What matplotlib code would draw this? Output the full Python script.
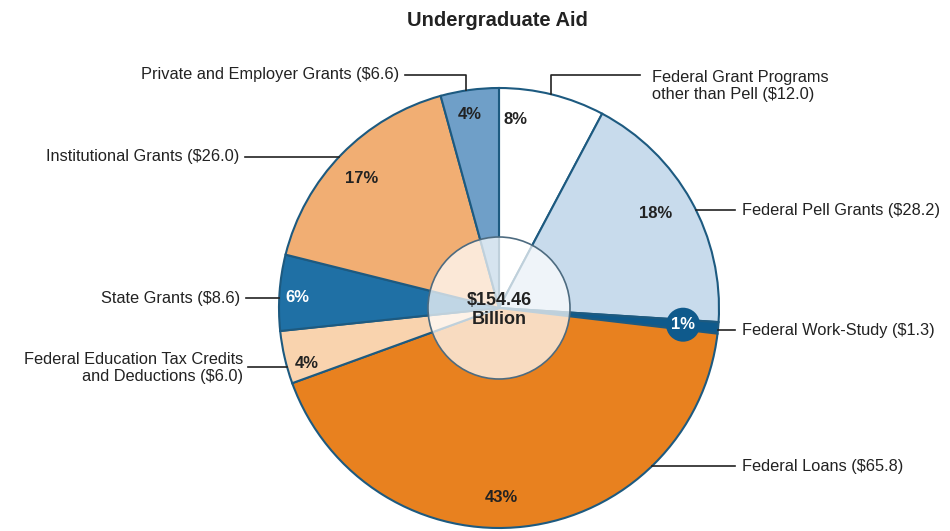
import numpy as np
import matplotlib.pyplot as plt
from matplotlib.patches import Circle

# Undergraduate aid by source, billions of dollars (clockwise from 12 o'clock)
sources = ['Federal Grant Programs\nother than Pell', 'Federal Pell Grants',
           'Federal Work-Study', 'Federal Loans',
           'Federal Education Tax Credits\nand Deductions', 'State Grants',
           'Institutional Grants', 'Private and Employer Grants']
amounts = [12.0, 28.2, 1.3, 65.8, 6.0, 8.6, 26.0, 6.6]
total_label = '$154.46\nBillion'

colors = ['#ffffff', '#c8dbec', '#0f5a8c', '#e8811f',
          '#f9d3ae', '#1f70a5', '#f1ae73', '#6f9fc8']
pct_colors = ['#222222', '#222222', '#ffffff', '#222222',
              '#222222', '#ffffff', '#222222', '#222222']

W, H = 950, 531
fig = plt.figure(figsize=(W / 100, H / 100), dpi=100)
ax = fig.add_axes([0, 0, 1, 1])

FONT = ['Liberation Sans', 'DejaVu Sans']
cx, cy, R = 499, 308, 220
edge = '#1d5a80'

# y axis is flipped below, so counterclock=True ends up clockwise on screen
wedges, _ = ax.pie(amounts, colors=colors, startangle=-90, counterclock=True,
                   center=(cx, cy), radius=R, frame=True,
                   wedgeprops=dict(edgecolor=edge, linewidth=1.5))
ax.set_xlim(0, W)
ax.set_ylim(H, 0)
ax.set_aspect('equal')
ax.axis('off')

# percentage labels at the middle of each slice
total = sum(amounts)
shift = [-9, -2, 0, 6, -3, -1, -1, -1]
dist = [0.86, 0.83, 0.84, 0.86, 0.91, 0.92, 0.86, 0.89]
start = 0.0
for i, v in enumerate(amounts):
    mid = (start + v / 2) / total * 360 + shift[i]
    start += v
    a = np.radians(mid)
    x = cx + R * dist[i] * np.sin(a)
    y = cy - R * dist[i] * np.cos(a)
    bbox = None
    if v / total < 0.02:
        bbox = dict(boxstyle='circle,pad=0.3', fc=colors[i], ec='none')
    ax.text(x, y, f'{round(v / total * 100)}%', ha='center', va='center',
            fontsize=12, fontweight='bold', color=pct_colors[i],
            family=FONT, bbox=bbox)

# translucent hub with the total
ax.add_patch(Circle((cx, cy), 71, facecolor='white', alpha=0.72,
                    edgecolor='none', zorder=3))
ax.add_patch(Circle((cx, cy), 71, facecolor='none', edgecolor='#4d6b80',
                    linewidth=1.2, zorder=4))
ax.text(cx, cy + 2, total_label, ha='center', va='center', fontsize=13,
        fontweight='bold', color='#222222', family=FONT, linespacing=1.1,
        zorder=5)


def edge_x(y, side):
    return cx + side * np.sqrt(R ** 2 - (y - cy) ** 2)


def edge_y(x):
    return cy - np.sqrt(R ** 2 - (x - cx) ** 2)


line_kw = dict(color='#222222', linewidth=1.2, zorder=6)
txt_kw = dict(fontsize=11.8, color='#222222', family=FONT, va='center',
              linespacing=1.2)


def label(i):
    return f'{sources[i]} (${amounts[i]:.1f})'


# right side
ax.plot([551, 551, 640], [edge_y(551), 75, 75], **line_kw)
ax.text(652, 86, label(0), ha='left', **txt_kw)
for i, y in [(1, 210), (2, 330), (3, 466)]:
    ax.plot([edge_x(y, 1), 735], [y, y], **line_kw)
    ax.text(742, y, label(i), ha='left', **txt_kw)

# left side
ax.plot([466, 466, 405], [edge_y(466), 75, 75], **line_kw)
ax.text(399, 75, label(7), ha='right', **txt_kw)
ax.plot([edge_x(157, -1), 245], [157, 157], **line_kw)
ax.text(239, 157, label(6), ha='right', **txt_kw)
ax.plot([edge_x(298, -1), 246], [298, 298], **line_kw)
ax.text(240, 298, label(5), ha='right', **txt_kw)
ax.plot([edge_x(367, -1), 248], [367, 367], **line_kw)
ax.text(243, 368, label(4), ha='right', multialignment='right', **txt_kw)

ax.text(497, 21, 'Undergraduate Aid', ha='center', va='center', fontsize=14.5,
        fontweight='bold', color='#222222', family=FONT)

fig.savefig('out.png', dpi=100)
